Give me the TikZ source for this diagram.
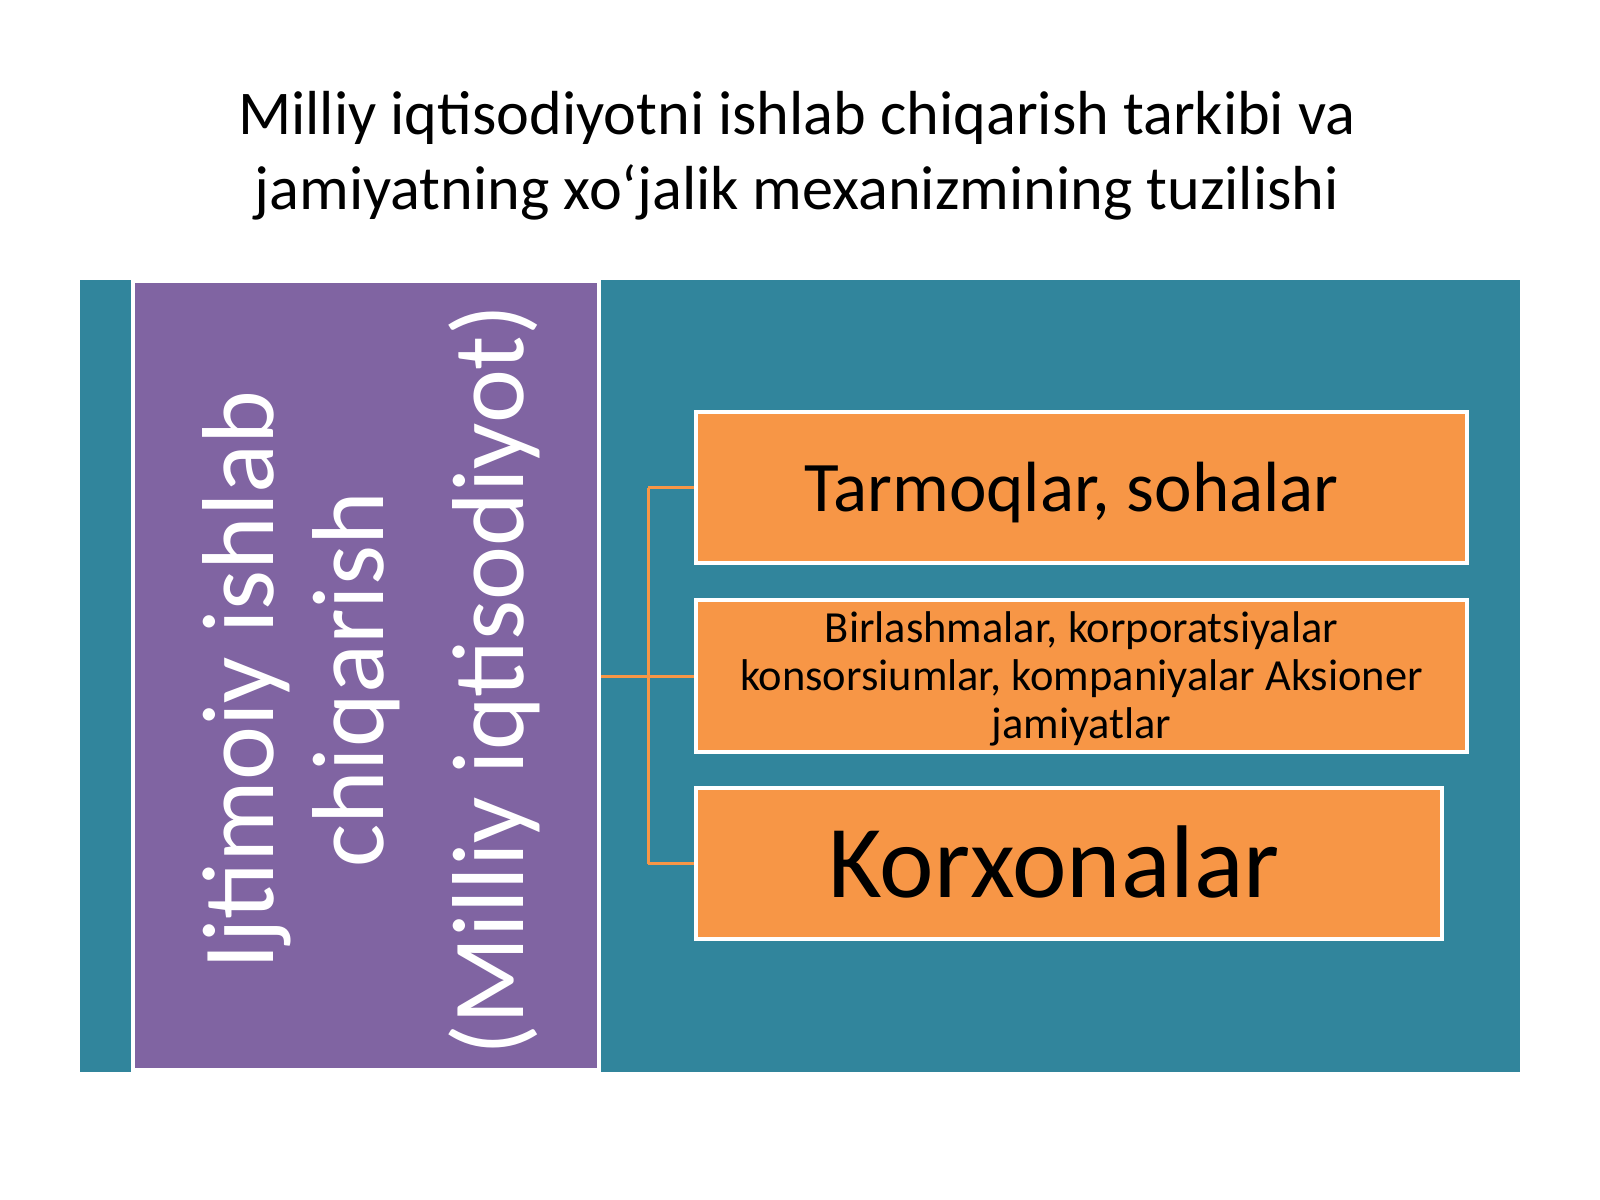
\documentclass[tikz,border=0pt]{standalone}
\usepackage{fontspec}
\setmainfont{Carlito}
\usepackage{xcolor}
\definecolor{slideTeal}{RGB}{49,133,156}
\definecolor{slidePurple}{RGB}{128,100,162}
\definecolor{slideOrange}{RGB}{247,150,70}

\newcommand\px{0.45pt}
\tikzset{
    orangebox/.style={draw=white, fill=slideOrange, line width=3.5*\px, inner sep=0pt},
    boxtext/.style={align=center, text=black, inner sep=0pt},
    link/.style={draw=slideOrange, line width=3*\px},
}

\begin{document}
\begin{tikzpicture}[x=0.45pt, y=-0.45pt]
    \newcommand\boxw{771}
    \newcommand\boxh{151}
    
    \useasboundingbox[fill=white] (0,0) rectangle (1600,1200);
    
    % title
    \node[align=center, font=\fontsize{28}{33.6}\selectfont] (title) at (797,156)
        {Milliy iqtisodiyotni ishlab chiqarish tarkibi va\\jamiyatning xo‘jalik mexanizmining tuzilishi};
    
    % background
    \fill[slideTeal] (80,280) rectangle (1520,1072);
    
    % boxes
    \node[orangebox, minimum width=\boxw*\px, minimum height=\boxh*\px] (tarmoq) at (1081.5,487.5) {};
    \node[orangebox, minimum width=\boxw*\px, minimum height=152*\px] (birlash) at (1081.5,676) {};
    \node[orangebox, minimum width=746*\px, minimum height=\boxh*\px] (korxona) at (1069,863.5) {};
    \node[boxtext, anchor=base, font=\fontsize{32}{38}\selectfont] (tarmoqlabel) at (1071.5,511)
        {Tarmoqlar, sohalar};
    \node[boxtext, font=\fontsize{20}{21.6}\selectfont] (birlashlabel) at (1081.5,679)
        {Birlashmalar, korporatsiyalar\\konsorsiumlar, kompaniyalar Aksioner\\jamiyatlar};
    \node[boxtext, anchor=base, font=\fontsize{46.5}{56}\selectfont] (korxonalabel) at (1054,897)
        {Korxonalar};
    
    % draw links
    \coordinate (hub) at (648,676);
    \draw[link] (366,676) -- (hub);
    \draw[link] (hub |- tarmoq.west) -- (hub |- korxona.west);
    \draw[link] (hub |- tarmoq.west) -- (tarmoq.west);
    \draw[link] (hub) -- (birlash.west);
    \draw[link] (hub |- korxona.west) -- (korxona.west);
    
    % left panel
    \node[draw=white, fill=slidePurple, line width=4*\px, inner sep=0pt,
        minimum width=466*\px, minimum height=789*\px] (panel) at (366,675.5) {};
    \node[rotate=90, align=center, text=white, font=\fontsize{46}{49.5}\selectfont]
        (paneltext) at (371,680)
        {Ijtimoiy ishlab\\chiqarish\\[13.5pt](Milliy iqtisodiyot)};
\end{tikzpicture}
\end{document}
